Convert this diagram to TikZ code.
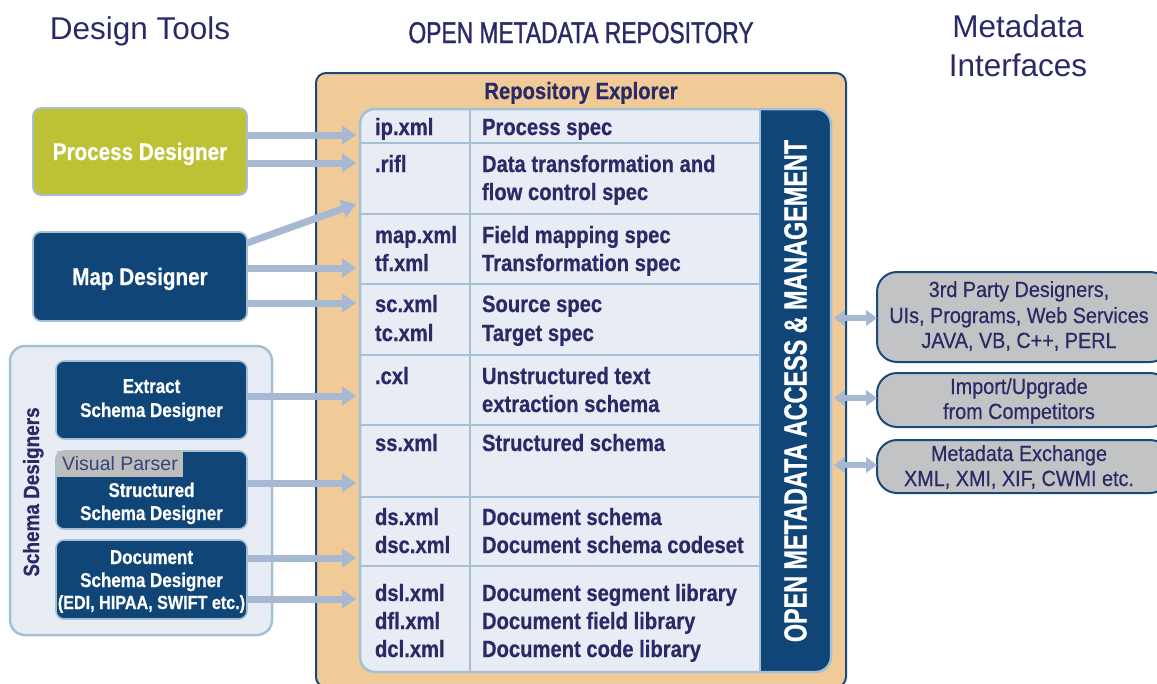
\documentclass[tikz,border=0pt]{standalone}
\usepackage{fontspec}
\setmainfont{Liberation Sans}
\newfontfamily\tabfont[FakeStretch=0.86,FakeBold=0.6]{Liberation Sans}
\newfontfamily\smallfont[FakeStretch=0.85,FakeBold=0.5]{Liberation Sans}
\newfontfamily\titlefont[FakeStretch=0.76,FakeBold=1.2]{Liberation Sans}
\newfontfamily\vertfont[FakeStretch=0.73,FakeBold=0.8]{Liberation Sans}
\newfontfamily\rightfont[FakeStretch=0.9,FakeBold=0.5]{Liberation Sans}
\usetikzlibrary{arrows.meta}
\definecolor{navytext}{HTML}{2A2A66}
\definecolor{peach}{HTML}{F0CB98}
\definecolor{frameblue}{HTML}{1A4A7C}
\definecolor{tablebg}{HTML}{E8ECF5}
\definecolor{gridblue}{HTML}{A3C0D4}
\definecolor{darkblue}{HTML}{0F4577}
\definecolor{arrowblue}{HTML}{A6B8D2}
\definecolor{olive}{HTML}{BCC233}
\definecolor{graybox}{HTML}{C2C3C5}
\definecolor{vpgray}{HTML}{BDBDBD}
\definecolor{vptext}{HTML}{34457A}
\begin{document}
\begin{tikzpicture}[x=1pt,y=-1pt,
  every node/.style={inner sep=0pt, outer sep=0pt},
  heading/.style={font=\fontsize{31.5}{36}\selectfont, text=navytext, anchor=base},
  cell/.style={anchor=base west, font=\tabfont\bfseries\fontsize{23.5}{28}\selectfont, text=navytext},
  designer/.style={draw=gridblue, line width=1.8pt, rounded corners=8pt, text=white,
    font=\tabfont\bfseries\fontsize{24}{28}\selectfont, text height=17pt, text depth=0pt},
  schemabox/.style={draw=gridblue, line width=1.6pt, rounded corners=8pt, fill=darkblue,
    minimum width=191pt, minimum height=78pt},
  boxtext/.style={anchor=base, text=white, font=\smallfont\bfseries\fontsize{20}{24}\selectfont},
  iface/.style={draw=frameblue, line width=2pt, fill=graybox, rounded corners=20pt,
    minimum width=293pt},
  ifacetext/.style={anchor=base, text=navytext, font=\rightfont\fontsize{22}{26}\selectfont},
  arr/.style={draw=arrowblue, line width=7pt, -{Triangle[width=19pt,length=14pt,line width=0.4pt]}},
  darr/.style={draw=arrowblue, line width=6pt,
    {Triangle[width=16pt,length=11pt,line width=0.4pt]}-{Triangle[width=16pt,length=11pt,line width=0.4pt]}},
  grid/.style={draw=gridblue, line width=2.5pt}
]
\useasboundingbox (0,0) rectangle (1157,683);

% headings
\node[heading] (dt) at (140,39) {Design Tools};
\node[heading, font=\titlefont\fontsize{30}{34}\selectfont] (omr) at (581,43) {OPEN METADATA REPOSITORY};
\node[heading] (mi1) at (1018,37) {Metadata};
\node[heading] (mi2) at (1018,76) {Interfaces};

% repository container
\node[draw=frameblue, line width=2pt, fill=peach, rounded corners=10pt,
  minimum width=530pt, minimum height=614pt] (repo) at (581,380) {};
\node[font=\tabfont\bfseries\fontsize{23.5}{28}\selectfont, text=navytext, anchor=base] (rex) at (581,99) {Repository Explorer};

% table
\node[fill=tablebg, rounded corners=15pt, minimum width=471pt, minimum height=563pt] (tab) at (595.5,390.5) {};
\begin{scope}
  \clip (760,100) rectangle (840,680);
  \fill[darkblue, rounded corners=15pt] (700,109) rectangle (831,672);
\end{scope}
\draw[grid, rounded corners=15pt] (tab.north west) rectangle (tab.south east);
\draw[grid] (470,109) -- (470,672) (760,109) -- (760,672);
\foreach \yy in {143,214,284,355,425,497,566} \draw[grid] (360,\yy) -- (760,\yy);

\node[rotate=90, font=\vertfont\bfseries\fontsize{32}{36}\selectfont, text=white,
  text height=23pt, text depth=0pt] (oma) at (795,391) {OPEN METADATA ACCESS \& MANAGEMENT};

% table cells
\node[cell] (f1) at (375,135) {ip.xml};
\node[cell] (d1) at (482,135) {Process spec};
\node[cell] (f2) at (375,172) {.rifl};
\node[cell] (d2a) at (482,172) {Data transformation and};
\node[cell] (d2b) at (482,200) {flow control spec};
\node[cell] (f3a) at (375,243) {map.xml};
\node[cell] (f3b) at (375,271) {tf.xml};
\node[cell] (d3a) at (482,243) {Field mapping spec};
\node[cell] (d3b) at (482,271) {Transformation spec};
\node[cell] (f4a) at (375,312) {sc.xml};
\node[cell] (f4b) at (375,341) {tc.xml};
\node[cell] (d4a) at (482,312) {Source spec};
\node[cell] (d4b) at (482,341) {Target spec};
\node[cell] (f5) at (375,384) {.cxl};
\node[cell] (d5a) at (482,384) {Unstructured text};
\node[cell] (d5b) at (482,412) {extraction schema};
\node[cell] (f6) at (375,451) {ss.xml};
\node[cell] (d6) at (482,451) {Structured schema};
\node[cell] (f7a) at (375,525) {ds.xml};
\node[cell] (f7b) at (375,553) {dsc.xml};
\node[cell] (d7a) at (482,525) {Document schema};
\node[cell] (d7b) at (482,553) {Document schema codeset};
\node[cell] (f8a) at (375,601) {dsl.xml};
\node[cell] (f8b) at (375,629) {dfl.xml};
\node[cell] (f8c) at (375,657) {dcl.xml};
\node[cell] (d8a) at (482,601) {Document segment library};
\node[cell] (d8b) at (482,629) {Document field library};
\node[cell] (d8c) at (482,657) {Document code library};

% design tools
\node[designer, fill=olive, minimum width=214pt, minimum height=87pt] (pd) at (140,151.5) {Process Designer};
\node[designer, fill=darkblue, minimum width=214pt, minimum height=89pt] (md) at (140,276.5) {Map Designer};

% schema designers
\node[fill=tablebg, draw=gridblue, line width=2.5pt, rounded corners=15pt,
  minimum width=262pt, minimum height=289pt] (sd) at (141,490.5) {};
\node[rotate=90, font=\tabfont\bfseries\fontsize{22}{26}\selectfont, text=navytext,
  text height=16pt, text depth=0pt] (sdl) at (31,492) {Schema Designers};
\node[schemabox] (es) at (151.5,400) {};
\node[boxtext] (es1) at (151.5,393) {Extract};
\node[boxtext] (es2) at (151.5,417) {Schema Designer};
\node[schemabox] (ss) at (151.5,490) {};
\node[fill=vpgray, minimum width=126pt, minimum height=26pt, anchor=north west,
  font=\fontsize{19.5}{22}\selectfont, text=vptext] (vp) at (57,451) {Visual Parser};
\node[boxtext] (ss1) at (151.5,497) {Structured};
\node[boxtext] (ss2) at (151.5,520) {Schema Designer};
\node[schemabox, minimum height=79pt] (ds) at (151.5,579.5) {};
\node[boxtext] (ds1) at (151.5,564) {Document};
\node[boxtext] (ds2) at (151.5,587) {Schema Designer};
\node[boxtext, font=\smallfont\bfseries\fontsize{19}{24}\selectfont] (ds3) at (151.5,609) {(EDI, HIPAA, SWIFT etc.)};

% metadata interfaces
\node[iface, minimum height=90pt] (r1) at (1023.5,317) {};
\node[ifacetext] (r1a) at (1019,297) {3rd Party Designers,};
\node[ifacetext] (r1b) at (1019,323) {UIs, Programs, Web Services};
\node[ifacetext] (r1c) at (1019,348) {JAVA, VB, C++, PERL};
\node[iface, minimum height=54pt] (r2) at (1023.5,400) {};
\node[ifacetext] (r2a) at (1019,394) {Import/Upgrade};
\node[ifacetext] (r2b) at (1019,419) {from Competitors};
\node[iface, minimum height=53pt] (r3) at (1023.5,466.5) {};
\node[ifacetext] (r3a) at (1019,461) {Metadata Exchange};
\node[ifacetext] (r3b) at (1019,486) {XML, XMI, XIF, CWMI etc.};

% arrow targets
\coordinate (t1) at (356,135);
\coordinate (t2) at (356,163);
\coordinate (t3) at (356,204);
\coordinate (t4) at (356,268);
\coordinate (t5) at (356,303);
\coordinate (t6) at (356,396);
\coordinate (t7) at (356,483);
\coordinate (t8) at (356,558);
\coordinate (t9) at (356,599);
\coordinate (m3) at (247,243);
\coordinate (a1) at (834,318);
\coordinate (a2) at (834,398);
\coordinate (a3) at (834,465);

\draw[arr] (pd.east |- t1) -- (t1);
\draw[arr] (pd.east |- t2) -- (t2);
\draw[arr] (m3) -- (t3);
\draw[arr] (md.east |- t4) -- (t4);
\draw[arr] (md.east |- t5) -- (t5);
\draw[arr] (es.east |- t6) -- (t6);
\draw[arr] (ss.east |- t7) -- (t7);
\draw[arr] (ds.east |- t8) -- (t8);
\draw[arr] (ds.east |- t9) -- (t9);

\draw[darr] (a1) -- (a1 -| r1.west);
\draw[darr] (a2) -- (a2 -| r2.west);
\draw[darr] (a3) -- (a3 -| r3.west);
\end{tikzpicture}
\end{document}
